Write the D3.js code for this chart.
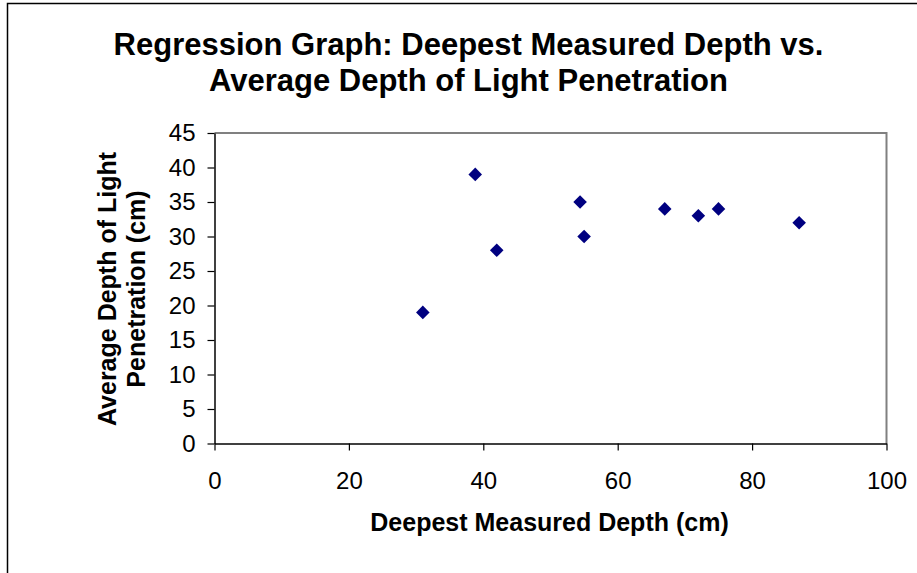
<!DOCTYPE html>
<html><head><meta charset="utf-8">
<script src="https://cdn.jsdelivr.net/npm/d3@7"></script>
<style>body{margin:0;background:#fff;} text{font-family:"Liberation Sans",Arial,sans-serif;}</style>
</head><body><svg id="c" width="917" height="573"></svg>
<script>
const titleLines = ["Regression Graph: Deepest Measured Depth vs.", "Average Depth of Light Penetration"];
const xTitle = "Deepest Measured Depth (cm)";
const yTitleLines = ["Average Depth of Light", "Penetration (cm)"];
const xTicks = [0, 20, 40, 60, 80, 100];
const yTicks = [0, 5, 10, 15, 20, 25, 30, 35, 40, 45];
const deepest = [31, 38.8, 42, 54.4, 55, 67, 72, 75, 87];
const lightDepth = [19, 39, 28, 35, 30, 34, 33, 34, 32];

const svg = d3.select("#c");
svg.append("rect").attr("x",7.5).attr("y",3.5).attr("width",940).attr("height",600)
  .attr("fill","#fff").attr("stroke","#000").attr("stroke-width",1.5);

const L=214.5, R=886.5, T=133, B=443.5;
const x = d3.scaleLinear().domain([0,100]).range([L,R]);
const y = d3.scaleLinear().domain([0,45]).range([B,T]);

// plot border top/right gray
svg.append("path").attr("d",`M${L},${T}H${R}V${B}`).attr("fill","none").attr("stroke","#808080").attr("stroke-width",2);

const xa = svg.append("g").attr("transform",`translate(0,${B})`)
  .call(d3.axisBottom(x).tickValues(xTicks).tickSize(7).tickSizeOuter(0).tickPadding(21));
const ya = svg.append("g").attr("transform",`translate(${L},0)`)
  .call(d3.axisLeft(y).tickValues(yTicks).tickSize(7).tickSizeOuter(0).tickPadding(12));
[xa,ya].forEach(g=>{
  g.select(".domain").attr("stroke","#000").attr("stroke-width",1.5);
  g.selectAll(".tick line").attr("stroke","#000").attr("stroke-width",1.2);
  g.selectAll(".tick text").attr("fill","#000").style("font-size","24px");
});

svg.append("g").selectAll("path").data(deepest).join("path")
  .attr("d", d3.symbol(d3.symbolSquare, 92)())
  .attr("transform",(d,i)=>`translate(${x(d)},${y(lightDepth[i])}) rotate(45)`)
  .attr("fill","#000080");

svg.append("text").attr("text-anchor","middle").style("font-size","31px").style("font-weight","bold")
  .selectAll("tspan").data(titleLines).join("tspan")
  .attr("x",468.5).attr("y",(d,i)=>55+i*36).text(d=>d);

svg.append("text").attr("x",549.5).attr("y",531).attr("text-anchor","middle")
  .style("font-size","25px").style("font-weight","bold").text(xTitle);

svg.append("g").attr("transform","translate(0,289) rotate(-90)")
  .append("text").attr("text-anchor","middle").style("font-size","25px").style("font-weight","bold")
  .selectAll("tspan").data(yTitleLines).join("tspan")
  .attr("x",0).attr("y",(d,i)=>116+i*29).text(d=>d);
</script></body></html>
